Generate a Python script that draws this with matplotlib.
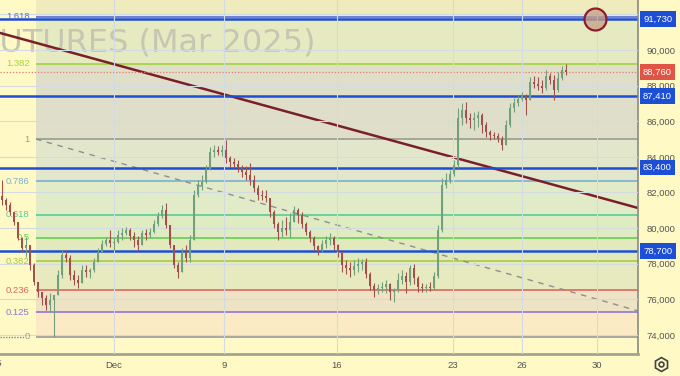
import numpy as np
import matplotlib.pyplot as plt
import matplotlib.transforms as mtransforms
from matplotlib.lines import Line2D

plt.rcParams['font.family'] = ['Liberation Sans', 'DejaVu Sans']

# --------------------------------------------------------------------
#                       DATA (prices in thousands)
# --------------------------------------------------------------------
first_open = 81.80
closes = [
    81.58, 81.30, 80.91, 80.35, 79.45, 78.89, 79.05, 77.93, 76.98, 76.41,
    76.08, 75.68, 75.97, 76.25, 77.37, 78.49, 78.32, 77.37, 77.09, 76.92,
    77.65, 77.54, 77.65, 78.10, 78.66, 79.11, 79.33, 79.17, 79.22, 79.62,
    79.73, 79.90, 79.56, 79.33, 79.05, 79.73, 79.62, 79.78, 80.23, 80.68,
    81.02, 80.18, 79.05, 77.93, 77.54, 78.60, 78.32, 79.33, 81.86, 82.37,
    82.59, 83.26, 84.28, 84.39, 84.28, 84.39, 83.94, 83.71, 83.60, 83.38,
    83.15, 82.98, 82.70, 82.25, 81.86, 81.80, 81.69, 80.91, 80.23, 79.78,
    80.01, 79.90, 80.35, 81.02, 80.74, 80.23, 79.78, 79.45, 79.00, 78.77,
    79.11, 79.33, 79.45, 79.05, 78.66, 77.93, 77.76, 77.65, 77.87, 77.99,
    78.10, 77.43, 76.75, 76.53, 76.64, 76.70, 76.86, 76.41, 76.53, 77.09,
    77.31, 76.98, 77.76, 77.20, 76.70, 76.64, 76.70, 76.64, 77.31, 79.90,
    82.42, 82.70, 83.04, 83.55, 86.18, 86.63, 86.18, 86.07, 86.18, 86.35,
    85.79, 85.40, 85.23, 85.17, 85.01, 84.67, 85.79, 86.75, 87.03, 87.25,
    87.42, 87.20, 88.21, 88.09, 87.98, 87.87, 88.54, 88.32, 87.76, 88.43,
    88.88, 88.76]
highs = [
    82.70, 81.69, 81.47, 80.91, 80.18, 79.50, 79.50, 78.77, 78.04, 76.92,
    76.41, 76.25, 76.36, 76.13, 77.65, 78.77, 78.77, 78.49, 77.65, 77.37,
    77.93, 77.93, 77.76, 78.32, 78.89, 79.33, 79.50, 79.90, 79.50, 79.90,
    80.01, 80.06, 80.01, 79.78, 79.56, 79.90, 79.95, 80.01, 80.46, 80.91,
    81.30, 81.41, 80.18, 79.05, 78.10, 78.89, 79.05, 79.62, 82.14, 82.70,
    82.98, 83.55, 84.56, 84.67, 84.61, 84.67, 84.95, 84.05, 83.94, 83.83,
    83.55, 83.49, 83.66, 82.98, 82.42, 82.14, 82.14, 81.69, 81.02, 80.35,
    80.46, 80.63, 80.85, 81.24, 81.13, 80.91, 80.35, 79.90, 79.56, 79.05,
    79.33, 79.56, 79.73, 79.56, 79.11, 78.66, 78.21, 78.10, 78.21, 78.32,
    78.27, 78.32, 77.54, 76.92, 76.86, 76.98, 77.09, 76.92, 76.64, 77.48,
    77.65, 77.54, 77.93, 77.99, 77.31, 76.92, 76.86, 76.98, 77.54, 80.18,
    82.82, 83.10, 83.26, 83.83, 86.75, 87.03, 87.08, 86.47, 86.52, 86.58,
    86.47, 85.96, 85.51, 85.40, 85.34, 85.17, 86.07, 87.03, 87.31, 87.48,
    87.64, 87.53, 88.49, 88.54, 88.49, 88.32, 88.88, 88.71, 88.60, 88.77,
    89.10, 89.22]
lows = [
    81.30, 81.02, 80.74, 80.18, 79.33, 78.66, 78.38, 77.65, 76.81, 76.13,
    75.68, 75.40, 75.29, 73.89, 76.25, 77.20, 78.10, 77.09, 76.81, 76.64,
    76.92, 77.26, 77.20, 77.54, 78.10, 78.66, 79.00, 78.94, 78.77, 79.17,
    79.33, 79.62, 79.33, 78.94, 78.77, 79.05, 79.33, 79.45, 79.73, 80.12,
    80.57, 80.01, 78.89, 77.76, 77.20, 77.65, 78.10, 78.10, 79.33, 81.75,
    82.14, 82.53, 83.26, 83.99, 84.11, 84.05, 83.66, 83.43, 83.38, 83.15,
    82.87, 82.70, 82.42, 82.03, 81.58, 81.58, 81.47, 80.63, 80.01, 79.33,
    79.50, 79.62, 79.50, 80.46, 80.29, 80.01, 79.62, 79.22, 78.77, 78.49,
    78.66, 78.89, 79.05, 78.77, 78.38, 77.54, 77.43, 77.26, 77.37, 77.54,
    77.65, 77.20, 76.53, 76.13, 76.30, 76.41, 76.36, 75.97, 75.85, 76.41,
    76.86, 76.36, 76.81, 76.86, 76.41, 76.41, 76.41, 76.47, 76.53, 77.20,
    79.78, 82.25, 82.53, 82.93, 83.38, 85.79, 85.90, 85.62, 85.51, 85.68,
    85.34, 85.12, 84.95, 85.01, 84.84, 84.39, 84.67, 85.68, 86.52, 86.86,
    87.14, 86.35, 87.20, 87.87, 87.76, 87.59, 87.76, 88.09, 87.20, 87.64,
    88.32, 88.60]

# Fibonacci retracement (low / high anchors)
fib_low = 73.90
fib_high = 85.00
fib_ratios = [0, 0.125, 0.236, 0.382, 0.5, 0.618, 0.786, 1, 1.382, 1.618]
fib_labels = ['0', '0.125', '0.236', '0.382', '0.5', '0.618', '0.786', '1', '1.382', '1.618']

# Horizontal levels and last price
blue_levels = [91730, 87410, 83400, 78700]
last_price = 88760

# Drawn lines: (bar, price in thousands)
trend_pts = [(-0.5, 90.96), (159.0, 81.13)]
diag_pts = [(8.5, 85.00), (159.0, 75.35)]
target_pt = (148.25, 91730)

date_labels = ['Dec', '9', '16', '23', '26', '30']
date_pos = [28, 55.5, 83.75, 112.75, 130, 148.75]

# --------------------------------------------------------------------
#                       STYLE
# --------------------------------------------------------------------
bg = '#FFF9C6'
fib_line_colors = ['#9a9a9a', '#9474d4', '#e0665c', '#a9cc3c', '#66cc55',
                   '#55cc95', '#79b0d4', '#9a9a90', '#a4d23e', '#5a6cd8']
fib_band_colors = ['#FBEAC4', '#EEE3C4', '#E6EABE', '#E2EABD', '#DFEBC1',
                   '#E1EBC7', '#E2E7CB', '#DFDFC9', '#E5EAC0', '#EFEBBC']
blue = '#1d4fd6'
fib_start = 8.5
x_left, x_right = -0.5, 159.0

fig = plt.figure(figsize=(6.8, 3.76), dpi=100, facecolor=bg)
ax = fig.add_axes([0, 22 / 376, 638 / 680, 354 / 376], facecolor=bg)

# fib bands and lines
levels = [(fib_low + r * (fib_high - fib_low)) * 1000 for r in fib_ratios]
band_edges = levels + [92810]
for i in range(len(levels)):
    ax.fill_between([fib_start, x_right], band_edges[i], band_edges[i + 1],
                    color=fib_band_colors[i], lw=0, zorder=0.5)
for lvl, lab, c in zip(levels, fib_labels, fib_line_colors):
    ax.hlines(lvl, fib_start, x_right, color=c, lw=1.2, zorder=2)
    ax.text(6.9, lvl, lab, ha='right', va='center', color=c, fontsize=6.8, zorder=3)
ax.hlines(levels[0], x_left, 5.4, color='#8a8a8a', lw=1, ls=(0, (1, 1)), zorder=2)

# watermark
ax.text(0.494, 0.878, 'FUTURES (Mar 2025)', transform=ax.transAxes, ha='right',
        va='center', fontsize=23, color='#c6c6b2', family='DejaVu Sans', zorder=0.8)

# grid
ax.set_yticks(np.arange(74000, 92001, 2000))
ax.set_xticks(date_pos, date_labels)
ax.grid(True, color='#d2dae2', lw=0.8, zorder=0.6)
ax.set_axisbelow(False)
for gl in ax.get_xgridlines() + ax.get_ygridlines():
    gl.set_zorder(0.6)

# dashed diagonal and trend line
ax.plot([p[0] for p in diag_pts], [p[1] * 1000 for p in diag_pts],
        color='#8f8f8f', lw=1, ls=(0, (4, 4)), zorder=2.2)
ax.plot([p[0] for p in trend_pts], [p[1] * 1000 for p in trend_pts],
        color='#7b1e2b', lw=1.8, zorder=2.4)

# blue levels and last price line
for v in blue_levels:
    ax.axhline(v, color=blue, lw=1.8, zorder=2.5)
ax.axhline(last_price, color='#e57a6a', lw=0.9, ls=(0, (1, 1.5)), zorder=2.5)

# candles
c = np.array(closes) * 1000
o = np.array([first_open] + closes[:-1]) * 1000
h = np.array(highs) * 1000
l = np.array(lows) * 1000
x = np.arange(len(c))
up = c >= o
cols = np.where(up, '#72a07e', '#a0514b')
bottom = np.minimum(o, c)
height = np.maximum(np.abs(c - o), 30)
ax.vlines(x, np.minimum(l, bottom), np.maximum(h, bottom + height), color=cols, lw=0.8, zorder=3)
ax.bar(x, height, bottom=bottom, width=0.55, color=cols, lw=0, zorder=3.1)

# target circle
ax.scatter([target_pt[0]], [target_pt[1]], s=250, facecolor=(0.79, 0.62, 0.52, 0.75),
           edgecolor='#8c1c2c', lw=1.6, zorder=6)

# axes look
ax.set_xlim(x_left, x_right)
ax.set_ylim(72930, 92810)
ax.yaxis.tick_right()
ax.set_yticklabels([f'{v:,}' for v in range(74000, 92001, 2000)])
ax.tick_params(axis='y', length=0, pad=6, labelsize=6.8, colors='#555555')
ax.tick_params(axis='x', length=0, pad=5, labelsize=6.8, colors='#555555')
for s in ['top', 'left']:
    ax.spines[s].set_visible(False)
ax.spines['right'].set_color('#8a8a80')
ax.spines['right'].set_linewidth(1.2)
ax.spines['bottom'].set_color('#a3a394')
ax.spines['bottom'].set_linewidth(2)

# price boxes on the right scale
trans = mtransforms.blended_transform_factory(ax.transAxes, ax.transData)
for v in blue_levels:
    ax.text(1.008, v, f'{v:,}', transform=trans, ha='left', va='center', color='white',
            fontsize=6.8, clip_on=False, zorder=10,
            bbox=dict(boxstyle='square,pad=0.35', fc=blue, ec='none'))
ax.text(1.008, last_price, f'{last_price:,}', transform=trans, ha='left', va='center',
        color='white', fontsize=6.8, clip_on=False, zorder=10,
        bbox=dict(boxstyle='square,pad=0.35', fc='#df5444', ec='none'))

# partial first date label and settings icon
fig.text(-3 / 680, 1 - 364 / 376, '25', ha='center', va='center', fontsize=6.8, color='#555555')
fig.add_artist(Line2D([661 / 680], [1 - 364 / 376], marker='h', markersize=10, mfc='none',
                      mec='#444444', mew=1.2, transform=fig.transFigure))
fig.add_artist(Line2D([661 / 680], [1 - 364 / 376], marker='o', markersize=3.5, mfc='none',
                      mec='#444444', mew=1.2, transform=fig.transFigure))

plt.savefig('out.png', dpi=100, facecolor=bg)
